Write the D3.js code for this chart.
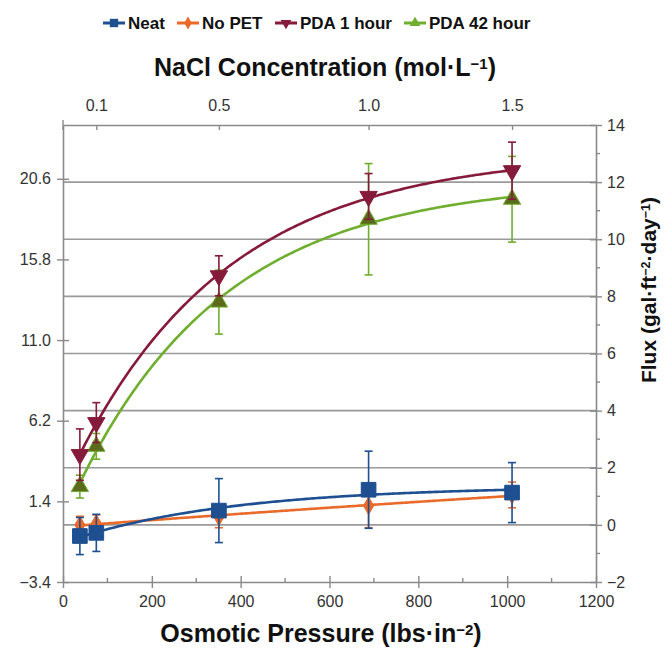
<!DOCTYPE html>
<html>
<head>
<meta charset="utf-8">
<script src="https://cdn.jsdelivr.net/npm/d3@7"></script>
<style>
  body { margin: 0; background: #fff; }
  svg { font-family: "Liberation Sans", Arial, sans-serif; }
</style>
</head>
<body>
<svg id="chart" width="672" height="650"></svg>
<script>
// NaCl concentration (mol/L) and matching osmotic pressure (lbs/in^2)
var conc = [0.05, 0.1, 0.5, 1.0, 1.5];
var osmotic = [38, 75, 351, 688, 1011];

// flux values in gal/ft^2/day, with error half-widths
var neat = [-0.39, -0.28, 0.50, 1.23, 1.13];
var neatErr = [0.65, 0.65, 1.12, 1.35, 1.05];
var noPet = [0.0, 0.05, 0.28, 0.67, 1.05];
var noPetErr = [0.3, 0.3, 0.38, 0.77, 0.45];
var pda1 = [2.46, 3.58, 8.72, 11.5, 12.4];
var pda1Err = [0.9, 0.7, 0.7, 0.8, 1.0];
var pda42 = [1.34, 2.75, 7.8, 10.7, 11.4];
var pda42Err = [0.4, 0.45, 1.12, 1.95, 1.5];

var seriesNames = ["Neat", "No PET", "PDA 1 hour", "PDA 42 hour"];
var seriesColors = ["#1d4f91", "#ea6a2a", "#861a3a", "#6fae2f"];
var markerFills = ["#1d4f91", "#ea6a2a", "#861a3a", "#5c6a1c"];
var seriesSymbols = [d3.symbolSquare, d3.symbolDiamond, d3.symbolTriangle, d3.symbolTriangle];

var bottomTicks = [0, 200, 400, 600, 800, 1000, 1200];
var topTicks = [0.1, 0.5, 1.0, 1.5];
var rightTicks = [-2, 0, 2, 4, 6, 8, 10, 12, 14];
var leftTicks = [-3.4, 1.4, 6.2, 11.0, 15.8, 20.6];

var margin = {top: 125, right: 76, bottom: 68, left: 63},
    width = 672 - margin.left - margin.right,
    height = 650 - margin.top - margin.bottom;

var x = d3.scaleLinear().domain([0, 1200]).range([0, width]);
var y = d3.scaleLinear().domain([-2, 14]).range([height, 0]);
var yLeft = d3.scaleLinear().domain([-3.4, 23.8]).range([height, 0]);

var svg = d3.select("#chart")
  .append("g")
  .attr("transform", "translate(" + margin.left + "," + margin.top + ")");

var axisColor = "#8a8a8a", textColor = "#333";

// grid lines
svg.append("g")
  .selectAll("line")
  .data(rightTicks.filter(function (d) { return d > -2 && d < 14; }))
  .enter().append("line")
  .attr("x1", 0).attr("x2", width)
  .attr("y1", function (d) { return y(d); })
  .attr("y2", function (d) { return y(d); })
  .style("stroke", "#9a9a9a")
  .style("stroke-width", 1.6);

function styleAxis(g) {
  g.select(".domain").style("stroke", axisColor).style("stroke-width", 1.6);
  g.selectAll(".tick line").style("stroke", axisColor).style("stroke-width", 1.4);
  g.selectAll("text").style("fill", textColor).style("font-size", "16px")
    .style("font-family", "Liberation Sans, Arial, sans-serif");
}

// bottom axis, major ticks crossing the line
var gb = svg.append("g")
  .attr("transform", "translate(0," + height + ")")
  .call(d3.axisBottom(x).tickValues(bottomTicks).tickSize(6).tickSizeOuter(0).tickPadding(8)
    .tickFormat(d3.format("d")));
gb.selectAll(".tick line").attr("y1", -6);
styleAxis(gb);
gb.append("g").selectAll("line")
  .data(d3.range(100, 1200, 200))
  .enter().append("line")
  .attr("x1", function (d) { return x(d); }).attr("x2", function (d) { return x(d); })
  .attr("y1", -4).attr("y2", 0)
  .style("stroke", axisColor).style("stroke-width", 1.4);

// top axis, NaCl concentration placed at matching osmotic pressure
var topPos = topTicks.map(function (c) { return osmotic[conc.indexOf(c)]; });
var gt = svg.append("g")
  .call(d3.axisTop(x).tickValues(topPos).tickSize(5).tickSizeOuter(0).tickPadding(6)
    .tickFormat(function (d, i) { return d3.format(".1f")(topTicks[i]); }));
gt.selectAll(".tick line").attr("y2", 0).attr("y1", 5);
gt.selectAll(".tick text").attr("y", -14);
styleAxis(gt);
gt.append("line").attr("x1", 0).attr("x2", 0).attr("y1", -5).attr("y2", 5)
  .style("stroke", axisColor).style("stroke-width", 1.4);

// left axis (L/m^2/h equivalent)
var gl = svg.append("g")
  .call(d3.axisLeft(yLeft).tickValues(leftTicks).tickSize(6).tickSizeOuter(0).tickPadding(6)
    .tickFormat(d3.format(".1f")));
gl.selectAll(".tick line").attr("x1", 6);
styleAxis(gl);

// right axis
var gr = svg.append("g")
  .attr("transform", "translate(" + width + ",0)")
  .call(d3.axisRight(y).tickValues(rightTicks).tickSize(6).tickSizeOuter(0).tickPadding(5));
gr.selectAll(".tick line").attr("x1", -6);
styleAxis(gr);
gr.append("g").selectAll("line")
  .data(d3.range(-1, 14, 2))
  .enter().append("line")
  .attr("x1", 0).attr("x2", 4)
  .attr("y1", function (d) { return y(d); }).attr("y2", function (d) { return y(d); })
  .style("stroke", axisColor).style("stroke-width", 1.4);

// saturating trend line y = a + b*exp(-k*x), k picked by least squares
function satFit(xs, ys) {
  var best = null;
  for (var k = 0.0002; k <= 0.008; k += 0.0001) {
    var e = xs.map(function (xv) { return Math.exp(-k * xv); });
    var me = d3.mean(e), my = d3.mean(ys), sxy = 0, sxx = 0;
    e.forEach(function (ev, i) { sxy += (ev - me) * (ys[i] - my); sxx += (ev - me) * (ev - me); });
    var b = sxy / sxx, a = my - b * me, sse = 0;
    e.forEach(function (ev, i) { sse += Math.pow(a + b * ev - ys[i], 2); });
    if (!best || sse < best.sse) best = {a: a, b: b, k: k, sse: sse};
  }
  return function (xv) { return best.a + best.b * Math.exp(-best.k * xv); };
}

var allSeries = [
  {vals: neat, err: neatErr},
  {vals: noPet, err: noPetErr},
  {vals: pda1, err: pda1Err},
  {vals: pda42, err: pda42Err}
];

var line = d3.line()
  .x(function (d) { return x(d[0]); })
  .y(function (d) { return y(d[1]); });

var order = [1, 0, 3, 2];

order.forEach(function (si) {
  var s = allSeries[si];
  var fit = satFit(osmotic, s.vals);
  var xsFit = d3.range(osmotic[0], osmotic[4] + 1, 5);
  svg.append("path")
    .datum(xsFit.map(function (xv) { return [xv, fit(xv)]; }))
    .attr("d", line)
    .style("fill", "none")
    .style("stroke", seriesColors[si])
    .style("stroke-width", 2.6);
});

order.forEach(function (si) {
  var s = allSeries[si], col = seriesColors[si];
  var pts = osmotic.map(function (xv, i) { return {x: xv, v: s.vals[i], e: s.err[i]}; });
  var g = svg.append("g");
  g.selectAll(".eb").data(pts).enter().append("line")
    .attr("x1", function (d) { return x(d.x); }).attr("x2", function (d) { return x(d.x); })
    .attr("y1", function (d) { return y(d.v - d.e); }).attr("y2", function (d) { return y(d.v + d.e); })
    .style("stroke", col).style("stroke-width", 1.6);
  [-1, 1].forEach(function (sg) {
    g.selectAll(".cap" + sg).data(pts).enter().append("line")
      .attr("x1", function (d) { return x(d.x) - 4; }).attr("x2", function (d) { return x(d.x) + 4; })
      .attr("y1", function (d) { return y(d.v + sg * d.e); }).attr("y2", function (d) { return y(d.v + sg * d.e); })
      .style("stroke", col).style("stroke-width", 1.6);
  });
  var size = si === 0 ? 215 : (si === 1 ? 90 : 130);
  g.selectAll("path").data(pts).enter().append("path")
    .attr("d", d3.symbol().type(seriesSymbols[si]).size(size))
    .attr("transform", function (d) {
      return "translate(" + x(d.x) + "," + y(d.v) + ")" + (si === 2 ? " rotate(180)" : "");
    })
    .style("fill", markerFills[si])
    .style("stroke", col)
    .style("stroke-width", 1);
});

// axis titles with raised superscripts
function supTitle(parent, parts) {
  var t = parent.append("text").style("font-weight", "bold").style("fill", "#111");
  var raised = false;
  parts.forEach(function (p) {
    if (p.sup) {
      t.append("tspan").text(p.sup).attr("dy", "-0.5em").style("font-size", "0.6em");
      raised = true;
    } else {
      var ts = t.append("tspan").text(p.t);
      if (raised) ts.attr("dy", "0.3em");
      raised = false;
    }
  });
  return t;
}

supTitle(svg, [{t: "Osmotic Pressure (lbs\u00b7in"}, {sup: "\u22122"}, {t: ")"}])
  .attr("x", 258).attr("y", height + 60)
  .attr("text-anchor", "middle")
  .style("font-size", "25px");

supTitle(svg, [{t: "NaCl Concentration (mol\u00b7L"}, {sup: "\u22121"}, {t: ")"}])
  .attr("x", 262).attr("y", -49)
  .attr("text-anchor", "middle")
  .style("font-size", "25px");

supTitle(svg, [{t: "Flux (gal\u00b7ft"}, {sup: "\u22122"}, {t: "\u00b7day"}, {sup: "\u22121"}, {t: ")"}])
  .attr("transform", "translate(" + (width + 60) + "," + 165 + ") rotate(-90)")
  .attr("text-anchor", "middle")
  .style("font-size", "21px");

// legend
var legend = d3.select("#chart").append("g").attr("transform", "translate(0,23)");
var legX = [103, 177, 275, 404];
seriesNames.forEach(function (name, i) {
  var g = legend.append("g").attr("transform", "translate(" + legX[i] + ",0)");
  g.append("line").attr("x1", 0).attr("x2", 22).attr("y1", 0).attr("y2", 0)
    .style("stroke", seriesColors[i]).style("stroke-width", 3);
  g.append("path")
    .attr("d", d3.symbol().type(seriesSymbols[i]).size(i === 0 ? 70 : 50))
    .attr("transform", "translate(11,0)" + (i === 2 ? " rotate(180)" : ""))
    .style("fill", seriesColors[i]);
  g.append("text").attr("x", 25).attr("y", 6)
    .text(name)
    .style("font-size", "17px").style("font-weight", "bold").style("fill", "#111");
});
</script>
</body>
</html>
